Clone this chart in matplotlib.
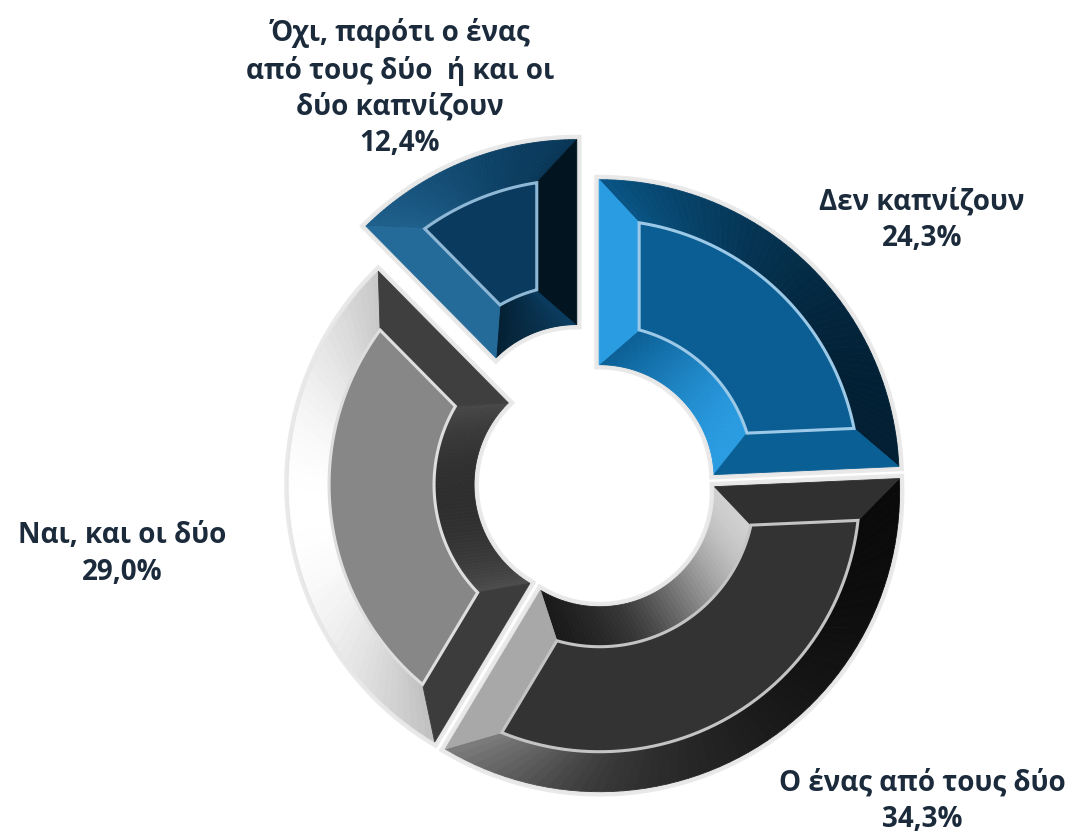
import numpy as np
import matplotlib.pyplot as plt
from matplotlib.patches import Polygon
from matplotlib.colors import to_rgb

# smoking status of the two parents
labels = ["Δεν καπνίζουν", "Ο ένας από τους δύο", "Ναι, και οι δύο",
          "Όχι, παρότι ο ένας\nαπό τους δύο  ή και οι\nδύο καπνίζουν"]
values = [24.3, 34.3, 29.0, 12.4]

face_colors = ["#0a5e93", "#333333", "#878787", "#0a3b5e"]
hi_colors = ["#2a9ce2", "#d0d0d0", "#ffffff", "#2f80b4"]
lo_colors = ["#021f33", "#0a0a0a", "#2e2e2e", "#011420"]
rim_colors = ["#9cc9e8", "#c4c4c4", "#dedede", "#8fb8d6"]
explode = [0.02, 0.03, 0.02, 0.16]
label_xy = [(922, 220), (922, 801), (122, 554), (400, 88)]

# layout in pixels
W, H = 1074, 838
CX, CY = 595, 484
R_OUT, R_IN, BEVEL = 300, 115, 40
LIGHT = 185
N = 60

fig = plt.figure(figsize=(W / 100, H / 100), dpi=100)
ax = fig.add_axes([0, 0, 1, 1])
ax.set_xlim(0, W)
ax.set_ylim(H, 0)
ax.axis("off")


def pt(ox, oy, rho, ang):
    a = np.radians(ang)
    return ox + rho * np.cos(a), oy - rho * np.sin(a)


def shade(i, normal):
    s = np.cos(np.radians(normal - LIGHT))
    base = np.array(to_rgb(face_colors[i]))
    if s >= 0:
        c = base + (np.array(to_rgb(hi_colors[i])) - base) * s ** 1.4
    else:
        c = base + (np.array(to_rgb(lo_colors[i])) - base) * (-s) ** 0.8
    return np.clip(c, 0, 1)


def poly(points, color, z, **kw):
    ax.add_patch(Polygon(points, closed=True, facecolor=color,
                         edgecolor=kw.pop("edgecolor", color),
                         lw=kw.pop("lw", 0.6), zorder=z, **kw))


total = sum(values)
start = 90.0
for i, v in enumerate(values):
    t_hi = start
    t_lo = start - 360.0 * v / total
    start = t_lo
    mid = (t_hi + t_lo) / 2
    ox, oy = pt(CX, CY, explode[i] * R_OUT, mid)

    ro, ri = R_OUT - BEVEL, R_IN + BEVEL
    do = np.degrees(np.arcsin(BEVEL / ro))
    di = np.degrees(np.arcsin(BEVEL / ri))

    ang_out = np.linspace(t_lo, t_hi, N)
    ang_out_in = np.linspace(t_lo + do, t_hi - do, N)
    ang_in = np.linspace(t_lo, t_hi, N)
    ang_in_in = np.linspace(t_lo + di, t_hi - di, N)

    # soft halo round the whole wedge
    outline = [pt(ox, oy, R_OUT, a) for a in ang_out] + \
              [pt(ox, oy, R_IN, a) for a in ang_in[::-1]]
    ax.add_patch(Polygon(outline, closed=True, facecolor="none",
                         edgecolor="#cfcfcf", lw=7, alpha=0.45, zorder=1))
    ax.add_patch(Polygon(outline, closed=True, facecolor="none",
                         edgecolor="#e6e6e6", lw=3, alpha=0.8, zorder=1))

    # outer and inner bevel facets, shaded segment by segment
    for k in range(N - 1):
        quad = [pt(ox, oy, R_OUT, ang_out[k]), pt(ox, oy, R_OUT, ang_out[k + 1]),
                pt(ox, oy, ro, ang_out_in[k + 1]), pt(ox, oy, ro, ang_out_in[k])]
        poly(quad, shade(i, (ang_out[k] + ang_out[k + 1]) / 2), 2)
        quad = [pt(ox, oy, R_IN, ang_in[k]), pt(ox, oy, R_IN, ang_in[k + 1]),
                pt(ox, oy, ri, ang_in_in[k + 1]), pt(ox, oy, ri, ang_in_in[k])]
        poly(quad, shade(i, (ang_in[k] + ang_in[k + 1]) / 2 + 180), 2)

    # side facets
    side_lo = [pt(ox, oy, R_IN, t_lo), pt(ox, oy, R_OUT, t_lo),
               pt(ox, oy, ro, t_lo + do), pt(ox, oy, ri, t_lo + di)]
    poly(side_lo, shade(i, t_lo - 90), 3)
    side_hi = [pt(ox, oy, R_IN, t_hi), pt(ox, oy, R_OUT, t_hi),
               pt(ox, oy, ro, t_hi - do), pt(ox, oy, ri, t_hi - di)]
    poly(side_hi, shade(i, t_hi + 90), 3)

    # flat top face with a thin light rim
    face = [pt(ox, oy, ro, a) for a in ang_out_in] + \
           [pt(ox, oy, ri, a) for a in ang_in_in[::-1]]
    poly(face, face_colors[i], 4, edgecolor=rim_colors[i], lw=2.2)

    txt = labels[i] + "\n" + f"{v:.1f}".replace(".", ",") + "%"
    ax.text(label_xy[i][0], label_xy[i][1], txt, ha="center", va="center",
            fontsize=20, fontweight="bold", color="#1c2b3c",
            family="Open Sans", linespacing=1.33, zorder=6)

fig.savefig("out.png", dpi=100, facecolor="white")
